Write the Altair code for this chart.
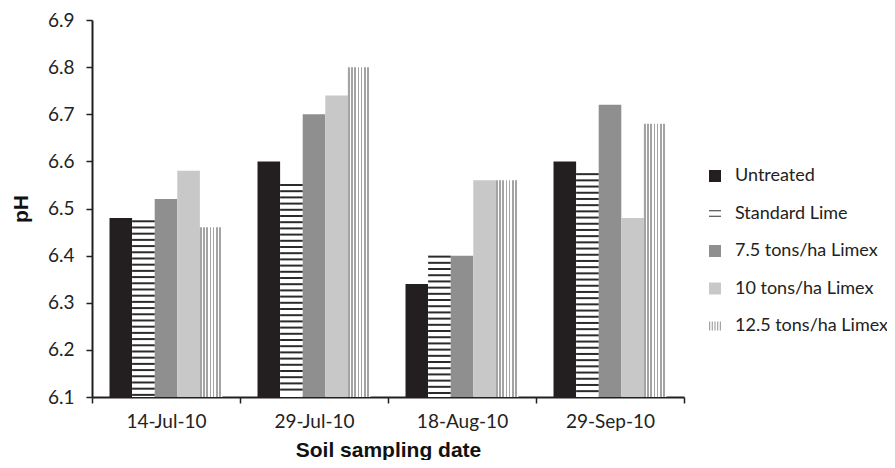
import altair as alt
import pandas as pd

dates = ["14-Jul-10", "29-Jul-10", "18-Aug-10", "29-Sep-10"]
treatments = ["Untreated", "Standard Lime", "7.5 tons/ha Limex",
              "10 tons/ha Limex", "12.5 tons/ha Limex"]
untreated = [6.48, 6.60, 6.34, 6.60]
standard_lime = [6.475, 6.552, 6.40, 6.575]
limex_7_5 = [6.52, 6.70, 6.40, 6.72]
limex_10 = [6.58, 6.74, 6.56, 6.48]
limex_12_5 = [6.46, 6.80, 6.56, 6.68]

series = [untreated, standard_lime, limex_7_5, limex_10, limex_12_5]
rows = []
for t, vals in zip(treatments, series):
    for d, v in zip(dates, vals):
        rows.append({"Date": d, "Treatment": t, "pH": v})
df = pd.DataFrame(rows)

YMIN, YMAX = 6.1, 6.9
PX_PER_PH = 377 / (YMAX - YMIN)

# decorative horizontal hatch lines for the Standard Lime bars
stripe_step = 6.2 / PX_PER_PH
stripe_thick = 2.0 / PX_PER_PH
stripe_rows = []
for d, v in zip(dates, standard_lime):
    top = v
    while top - stripe_thick > YMIN + 0.001:
        stripe_rows.append({"Date": d, "Treatment": "Standard Lime",
                            "top": top, "bot": top - stripe_thick})
        top -= stripe_step
stripes = pd.DataFrame(stripe_rows)

# vertical stripe gradient for the 12.5 t/ha bars
n_str = 7
stops = []
for i in range(n_str):
    a = i / n_str
    b = (i + 0.5) / n_str
    c = (i + 1) / n_str
    stops += [{"offset": a, "color": "#a3a3a3"}, {"offset": b, "color": "#a3a3a3"},
              {"offset": b, "color": "#ffffff"}, {"offset": c, "color": "#ffffff"}]
vstripe = {"gradient": "linear", "x1": 0, "x2": 1, "y1": 0, "y2": 0, "stops": stops}

fills = {"Untreated": "#231f20", "Standard Lime": "#ffffff",
         "7.5 tons/ha Limex": "#8f8f8f", "10 tons/ha Limex": "#c8c8c8"}

FONT = "Lato"
TFONT = "Liberation Sans"
LSIZE = 19

x_enc = alt.X("Date:N", sort=dates,
              scale=alt.Scale(paddingInner=0, paddingOuter=0),
              axis=alt.Axis(title="Soil sampling date", labelAngle=0,
                            tickBand="extent", tickSize=6, tickColor="#231f20",
                            domainColor="#231f20", domainWidth=2, tickWidth=1.5,
                            labelFont=FONT, labelFontSize=LSIZE, labelColor="#222222",
                            labelPadding=9, titleFont=TFONT, titleFontSize=21,
                            titleFontWeight="bold", titleColor="#111111",
                            titlePadding=8))
xo_enc = alt.XOffset("Treatment:N", sort=treatments,
                     scale=alt.Scale(paddingInner=0, paddingOuter=0.775))
y_scale = alt.Scale(domain=[YMIN, YMAX], zero=False, nice=False)
y_axis = alt.Axis(title="pH", values=[6.1, 6.2, 6.3, 6.4, 6.5, 6.6, 6.7, 6.8, 6.9],
                  format=".1f", tickSize=6, tickColor="#231f20", tickWidth=1.5,
                  domainColor="#231f20", domainWidth=2, grid=False,
                  labelFont=FONT, labelFontSize=LSIZE, labelColor="#222222",
                  labelPadding=12, titleFont=TFONT, titleFontSize=21,
                  titleFontWeight="bold", titleColor="#111111", titlePadding=16)

base = alt.Chart(df)

legend = alt.Legend(title=None, orient="none", legendX=614, legendY=147,
                    labelFont=FONT, labelFontSize=18, labelColor="#222222",
                    labelLimit=0, symbolSize=144, rowPadding=19.5, labelOffset=11,
                    padding=0, symbolStrokeWidth=0)

eq_path = "M-1,-0.55H1V-0.38H-1Z M-1,0.38H1V0.55H-1Z"
vl_path = ("M-1,-0.75H-0.8V0.75H-1Z M-0.55,-0.75H-0.35V0.75H-0.55Z "
           "M-0.1,-0.75H0.1V0.75H-0.1Z M0.35,-0.75H0.55V0.75H0.35Z "
           "M0.8,-0.75H1V0.75H0.8Z")

legend_layer = base.mark_point(filled=True, size=4, opacity=1).encode(
    x=x_enc, xOffset=xo_enc,
    y=alt.Y("pH:Q", scale=y_scale, axis=y_axis),
    color=alt.Color("Treatment:N", sort=treatments,
                    scale=alt.Scale(domain=treatments,
                                    range=["#231f20", "#333333", "#8f8f8f", "#c8c8c8", "#a3a3a3"]),
                    legend=legend),
    shape=alt.Shape("Treatment:N", sort=treatments,
                    scale=alt.Scale(domain=treatments,
                                    range=["square", eq_path, "square", "square", vl_path]),
                    legend=legend),
).transform_calculate(pH="6.2")

solid = base.mark_bar().encode(
    x=x_enc, xOffset=xo_enc,
    y=alt.Y("pH:Q", scale=y_scale, axis=y_axis),
    y2=alt.datum(YMIN),
    fill=alt.Fill("Treatment:N", sort=treatments,
                  scale=alt.Scale(domain=list(fills.keys()), range=list(fills.values())),
                  legend=None),
).transform_filter(alt.FieldOneOfPredicate(field="Treatment", oneOf=list(fills.keys())))

striped = base.mark_bar(fill=vstripe).encode(
    x=x_enc, xOffset=xo_enc,
    y=alt.Y("pH:Q", scale=y_scale, axis=y_axis),
    y2=alt.datum(YMIN),
).transform_filter(alt.datum.Treatment == "12.5 tons/ha Limex")

hatch = alt.Chart(stripes).mark_bar(color="#2b2b2b").encode(
    x=x_enc, xOffset=xo_enc,
    y=alt.Y("top:Q", scale=y_scale, axis=y_axis),
    y2="bot:Q",
)

chart = alt.layer(legend_layer, solid, striped, hatch).properties(
    width=592, height=377,
    autosize=alt.AutoSizeParams(type="none"),
    padding={"left": 84, "top": 12, "right": 203, "bottom": 63},
).configure_view(stroke=None).configure_axis(grid=False)

chart.save("out.html", embed_options={"renderer": "svg", "actions": False})
